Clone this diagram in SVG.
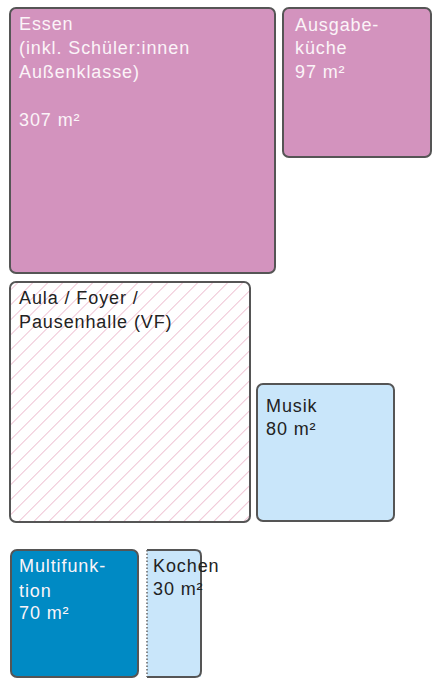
<svg xmlns="http://www.w3.org/2000/svg" width="432" height="678" viewBox="0 0 432 678">
  <style>
    .box { stroke: #555555; stroke-width: 2; }
    .pink { fill: #D393BE; }
    .lblue { fill: #C9E6FA; }
    .dblue { fill: #008AC4; }
    text { font-family: "Liberation Sans", Arial, sans-serif; font-size: 18px; letter-spacing: 0.9px; }
    .wt { fill: #FBF4F8; }
    .dt { fill: #222222; }
  </style>
  <defs>
    <pattern id="hatch" patternUnits="userSpaceOnUse" width="10.6" height="10.6" patternTransform="rotate(45)">
      <rect width="10.6" height="10.6" fill="#FFFFFF"/>
      <line x1="0" y1="0" x2="0" y2="10.6" stroke="#E8A6BF" stroke-width="1.3"/>
    </pattern>
  </defs>
  <rect width="432" height="678" fill="#FFFFFF"/>

  <g id="essen">
    <rect class="box pink" x="10" y="8" width="265" height="265" rx="6"/>
    <text class="wt" x="19" y="30">Essen</text>
    <text class="wt" x="19" y="54">(inkl. Schüler:innen</text>
    <text class="wt" x="19" y="78">Außenklasse)</text>
    <text class="wt" x="19" y="126">307 m²</text>
  </g>

  <g id="ausgabekueche">
    <rect class="box pink" x="283" y="8" width="148" height="149" rx="6"/>
    <text class="wt" x="295" y="31">Ausgabe-</text>
    <text class="wt" x="295" y="54">küche</text>
    <text class="wt" x="295" y="78">97 m²</text>
  </g>

  <g id="aula">
    <rect class="box" fill="url(#hatch)" x="10" y="282" width="240" height="240" rx="6"/>
    <text class="dt" x="19" y="304">Aula / Foyer /</text>
    <text class="dt" x="19" y="328">Pausenhalle (VF)</text>
  </g>

  <g id="musik">
    <rect class="box lblue" x="257" y="384" width="137" height="137" rx="6"/>
    <text class="dt" x="266" y="412">Musik</text>
    <text class="dt" x="266" y="435">80 m²</text>
  </g>

  <g id="multifunktion">
    <rect class="box dblue" x="11" y="550" width="127" height="127" rx="6"/>
    <text class="wt" x="19" y="572">Multifunk-</text>
    <text class="wt" x="19" y="597">tion</text>
    <text class="wt" x="19" y="619">70 m²</text>
  </g>

  <g id="kochen">
    <rect class="lblue" x="147" y="550" width="54" height="127"/>
    <path d="M147,550 H195 Q201,550 201,556 V671 Q201,677 195,677 H147" fill="none" stroke="#555555" stroke-width="2"/>
    <line x1="147" y1="550" x2="147" y2="677" stroke="#666666" stroke-width="1.5" stroke-dasharray="1.5,2"/>
    <text class="dt" x="153" y="572">Kochen</text>
    <text class="dt" x="153" y="595">30 m²</text>
  </g>

  <g id="connectors"/>
</svg>
